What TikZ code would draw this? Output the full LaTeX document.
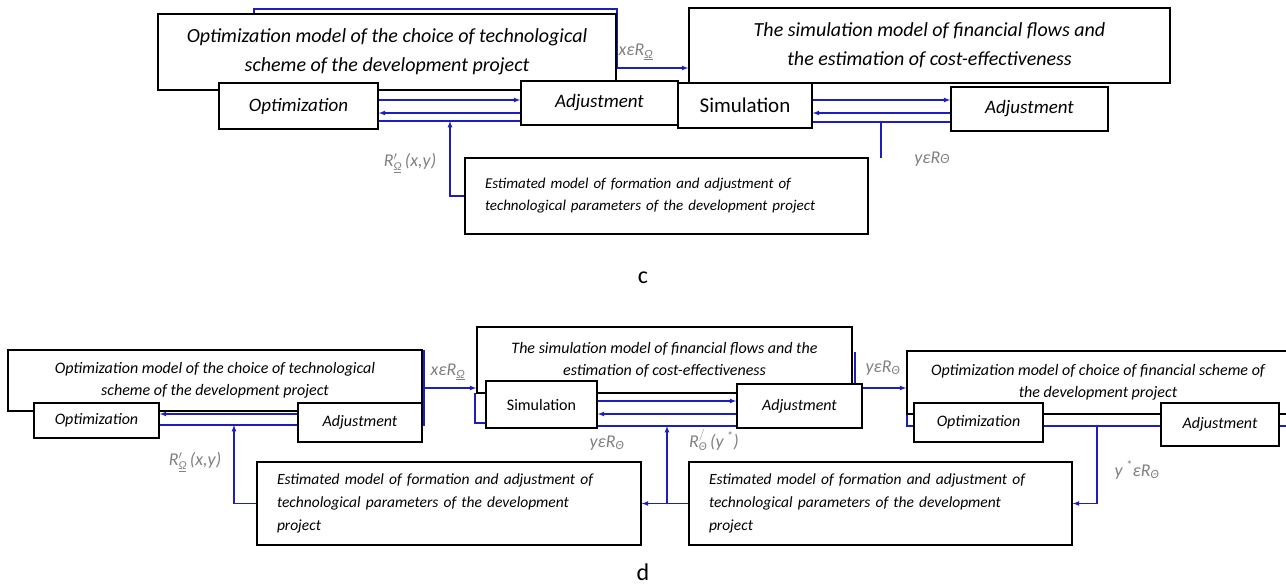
\documentclass[tikz,border=0pt]{standalone}
\usepackage{fontspec}
\setmainfont{Carlito}
\usetikzlibrary{backgrounds}
\definecolor{flowblue}{RGB}{30,30,190}
\newcommand{\cbigfont}{\fontsize{20}{29}\selectfont\itshape}
\newcommand{\csmallfont}{\fontsize{19}{19}\selectfont\itshape}
\newcommand{\cestfont}{\fontsize{15}{22}\selectfont\itshape}
\newcommand{\dbigfont}{\fontsize{16}{22}\selectfont\itshape}
\newcommand{\destfont}{\fontsize{15.5}{23}\selectfont\itshape}
\newcommand{\subtxt}[1]{\mbox{\fontsize{12}{12}\selectfont #1}}

\begin{document}
\begin{tikzpicture}[x=1pt,y=-1pt,
	bigbox/.style={draw, line width=1.6pt, fill=white, align=center, inner sep=0pt},
	smallbox/.style={draw, line width=1.6pt, fill=white, inner sep=0pt},
	estbox/.style={draw, line width=1.6pt, fill=white, align=left, inner xsep=20pt},
	flow/.style={draw=flowblue, line width=1.2pt},
	lbl/.style={text=gray, font=\fontsize{18}{18}\selectfont\itshape, inner sep=0pt},
	>=latex]
	\useasboundingbox (0,0) rectangle (1286,587);

	% panel c
	\node[bigbox, minimum width=458, minimum height=76, font=\cbigfont] (optc) at (387,52) {Optimization model of the choice of technological\\scheme of the development project};
	\node[bigbox, minimum width=481, minimum height=75, font=\cbigfont] (simc) at (929.5,45.5) {The simulation model of financial flows and\\the estimation of cost-effectiveness};
	\node[smallbox, minimum width=159, minimum height=46, font=\csmallfont] (optsc) at (298.5,106) {Optimization};
	\node[smallbox, minimum width=157, minimum height=44, font=\csmallfont] (adjc1) at (599.5,103) {Adjustment};
	\node[smallbox, minimum width=134, minimum height=45, font=\fontsize{21}{21}\selectfont] (simsc) at (745,105.5) {Simulation};
	\node[smallbox, minimum width=157, minimum height=44, font=\csmallfont] (adjc2) at (1029.5,109) {Adjustment};
	\node[estbox, minimum width=403, minimum height=76, text width=363, font=\cestfont] (estc) at (666.5,196) {Estimated model of formation and adjustment of\\technological parameters of the development project};

	\node[lbl] (lxc) at (636,52) {xεR\textsubscript{\underline{Ω}}};
	\node[lbl] (lRc) at (410,163) {R$^{\prime}_{\subtxt{\underline{Ω}}}$\,(x,y)};
	\node[lbl] (lyc) at (932,159) {yεR{\fontsize{14}{14}\selectfont Θ}};
	\node[font=\fontsize{24}{24}\selectfont] (capc) at (643,278) {c};

	\coordinate (jc1) at (450,121);
	\begin{pgfonlayer}{background}
		\draw[flow,->] (optc.north -| 254,0) |- (617,9) |- (simc.west |- 0,68);
		\draw[flow,->] ([yshift=6]optsc.east) -- ([yshift=6]optsc.east -| adjc1.west);
		\draw[flow,<-] ([yshift=-7]optsc.east) -- ([yshift=-7]optsc.east -| adjc1.west);
		\draw[flow] ([yshift=9]optsc.east) -- ([yshift=-15]optsc.east) -- ([yshift=-15]optsc.east -| adjc1.west) -- ++(0,-11);
		\draw[flow,->] (estc.west) -| (jc1);
		\draw[flow,->] ([yshift=5.5]simsc.east) -- ([yshift=5.5]simsc.east -| adjc2.west);
		\draw[flow,<-] ([yshift=-7.5]simsc.east) -- ([yshift=-7.5]simsc.east -| adjc2.west);
		\draw[flow] ([yshift=-16.5]simsc.east) -- ([yshift=-16.5]simsc.east -| adjc2.west);
		\draw[flow] (881,122) -- (881,158);
	\end{pgfonlayer}

	% panel d
	\node[bigbox, minimum width=414, minimum height=61, font=\dbigfont] (optd) at (215,380.5) {Optimization model of the choice of technological\\scheme of the development project};
	\node[bigbox, minimum width=375, minimum height=66, font=\dbigfont] (simd) at (664.5,360) {The simulation model of financial flows and the\\estimation of cost-effectiveness};
	\node[bigbox, minimum width=382, minimum height=63, font=\dbigfont] (find) at (1098,382.5) {Optimization model of choice of financial scheme of\\the development project};
	\node[smallbox, minimum width=125, minimum height=35, font=\dbigfont] (optsd1) at (96.5,420.5) {Optimization};
	\node[smallbox, minimum width=124, minimum height=39, font=\dbigfont] (adjd1) at (360,422.5) {Adjustment};
	\node[smallbox, minimum width=111, minimum height=47, font=\fontsize{16}{16}\selectfont] (simsd) at (541.5,404.5) {Simulation};
	\node[smallbox, minimum width=125, minimum height=44, font=\dbigfont] (adjd2) at (799.5,406) {Adjustment};
	\node[smallbox, minimum width=129, minimum height=39, font=\dbigfont] (optsd3) at (978.5,422.5) {Optimization};
	\node[smallbox, minimum width=118, minimum height=43, font=\dbigfont] (adjd3) at (1220,424.5) {Adjustment};
	\node[estbox, minimum width=384, minimum height=83, text width=344, font=\destfont] (estd1) at (449,503.5) {Estimated model of formation and adjustment of\\technological parameters of the development\\project};
	\node[estbox, minimum width=383, minimum height=83, text width=343, font=\destfont] (estd2) at (880.5,503.5) {Estimated model of formation and adjustment of\\technological parameters of the development\\project};

	\node[lbl] (lxd) at (448,372) {xεR\textsubscript{\underline{Ω}}};
	\node[lbl] (lRd) at (195,462) {R$^{\prime}_{\subtxt{\underline{Ω}}}$\,(x,y)};
	\node[lbl] (lyd1) at (883,368) {yεR\textsubscript{Θ}};
	\node[lbl] (lyd2) at (607,443) {yεR\textsubscript{Θ}};
	\node[lbl] (lRd2) at (714,440) {R$^{/}_{\subtxt{Θ}}$\,(y\,\textsuperscript{*})};
	\node[lbl] (lyd3) at (1137,470) {y\,\textsuperscript{*}εR\textsubscript{Θ}};
	\node[font=\fontsize{24}{24}\selectfont] (capd) at (643,572) {d};

	\coordinate (jd1) at (234,425);
	\coordinate (jd2) at (667,426);
	\coordinate (jd3) at (1097,426);
	\begin{pgfonlayer}{background}
		\draw[flow] (424,350) -- (424,425) -- (adjd1.east |- 0,425);
		\draw[flow,->] (424,388) -- (simd.west |- 0,388);
		\draw[flow] ([yshift=-4.5]optsd1.east) -- ([yshift=-4.5]optsd1.east -| adjd1.west);
		\draw[flow,<-] ([yshift=6.5]optsd1.east) -- ([yshift=6.5]optsd1.east -| adjd1.west);
		\draw[flow,->] (estd1.west) -| (jd1);
		\draw[flow] (475,393) |- (simsd.west |- 0,423);
		\draw[flow,->] ([yshift=3.5]simsd.east) -- ([yshift=3.5]simsd.east -| adjd2.west);
		\draw[flow,<-] ([yshift=-9.5]simsd.east) -- ([yshift=-9.5]simsd.east -| adjd2.west);
		\draw[flow] ([yshift=-21.5]simsd.east) -- ([yshift=-21.5]simsd.east -| adjd2.west);
		\draw[flow,->] (estd2.west) -| (jd2);
		\draw[flow,->] (estd2.west) -- (estd1.east);
		\draw[flow] (855,352) -- (855,392);
		\draw[flow,->] (adjd2.east |- 0,388) -- (find.west |- 0,388);
		\draw[flow] (907,414) |- (1286,426);
		\draw[flow,->] (jd3) |- (estd2.east);
	\end{pgfonlayer}
\end{tikzpicture}
\end{document}
